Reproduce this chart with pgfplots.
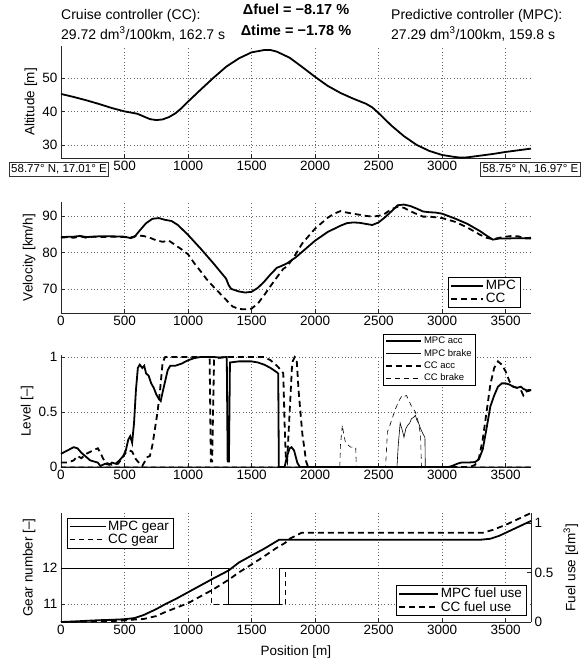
\documentclass[border=0pt]{standalone}
\usepackage{fontspec}
\setmainfont{Liberation Sans}
\usepackage{pgfplots}
\pgfplotsset{compat=1.18}
\newcommand\tf{\fontsize{13.5}{16}\selectfont}
\newcommand\ttl{\fontsize{14}{16}\selectfont}
\pgfplotsset{
  myaxis/.style={
    scale only axis, width=470pt, anchor=south west,
    xmin=0, xmax=3700, xtick={0,500,...,3500},
    axis x line*=bottom, axis y line*=left,
    x axis line style={-}, y axis line style={-},
    tick align=inside, major tick length=4pt,
    grid=major, major grid style={black!60, dash pattern=on 0.7pt off 2.6pt, line width=0.5pt},
    tick label style={font=\tf},
    label style={font=\tf},
    /pgf/number format/assume math mode=true,
    /pgf/number format/1000 sep={},
    scaled ticks=false, clip=false,
    axis line style={line width=0.6pt, black!85},
    tick style={black!85, line width=0.5pt},
    legend style={draw=black, fill=white, line width=0.6pt, font=\tf, inner xsep=2pt, inner ysep=1pt, row sep=-2pt, cells={anchor=west}},
    legend image code/.code={\draw[#1] (0pt,0pt) -- (32pt,0pt);},
  },
  thk/.style={black, line width=1.8pt},
  thkd/.style={black, line width=1.8pt, dash pattern=on 6pt off 4pt},
  thn/.style={black, line width=0.6pt},
  thnd/.style={black, line width=0.6pt, dash pattern=on 5pt off 4pt},
}
\begin{document}
\begin{tikzpicture}[x=1pt,y=1pt]
\path[use as bounding box] (0,0) rectangle (587,662);

% ---------- Panel 1: Altitude
\begin{axis}[myaxis, at={(61pt,504pt)}, height=112pt, ymin=26.1, ymax=59.5, ytick={30,40,50},
  xticklabels={,500,1000,1500,2000,2500,3000,},
  ylabel={Altitude [m]}, ylabel style={at={(axis description cs:-0.064,0.5)}, anchor=center, rotate=0}]
\addplot[thk] coordinates {(0,45.2)(100,44.3)(200,43.3)(300,42.2)(400,41)(500,40)(600,39.3)(650,38.5)(700,37.7)(750,37.4)(800,37.6)(850,38.3)(900,39.4)(950,41)(1000,42.9)(1100,46.5)(1200,50)(1300,53.3)(1400,55.8)(1500,57.6)(1600,58.3)(1650,58.3)(1700,57.8)(1800,56)(1900,53.2)(2000,50.3)(2100,47.6)(2200,45.5)(2300,43.8)(2400,42.3)(2450,41.2)(2500,39.5)(2600,35.8)(2700,32.6)(2800,30)(2900,28.2)(3000,27)(3100,26.4)(3150,26.2)(3200,26.3)(3300,26.8)(3400,27.3)(3500,27.9)(3600,28.4)(3700,28.9)};
\end{axis}
\node[draw=black!80, fill=white, line width=0.6pt, inner xsep=2pt, inner ysep=2.5pt, font=\fontsize{11.5}{12}\selectfont] at (59,492.5) {58.77° N, 17.01° E};
\node[draw=black!80, fill=white, line width=0.6pt, inner xsep=2pt, inner ysep=2.5pt, font=\fontsize{11.5}{12}\selectfont] at (530.5,492.5) {58.75° N, 16.97° E};
\node[anchor=west, inner sep=0pt, font=\ttl] at (61,646) {Cruise controller (CC):};
\node[anchor=west, inner sep=0pt, font=\ttl] at (61,628) {29.72 dm\textsuperscript{3}/100km, 162.7 s};
\node[inner sep=0pt, font=\fontsize{14.5}{16}\selectfont\bfseries] at (296,652.5) {Δfuel = −8.17 \%};
\node[inner sep=0pt, font=\fontsize{14.5}{16}\selectfont\bfseries] at (296,632) {Δtime = −1.78 \%};
\node[anchor=west, inner sep=0pt, font=\ttl] at (391,646) {Predictive controller (MPC):};
\node[anchor=west, inner sep=0pt, font=\ttl] at (391,628) {27.29 dm\textsuperscript{3}/100km, 159.8 s};

% ---------- Panel 2: Velocity
\begin{axis}[myaxis, at={(61pt,349pt)}, height=111pt, ymin=63.4, ymax=93.8, ytick={70,80,90},
  ylabel={Velocity [km/h]}, ylabel style={at={(axis description cs:-0.068,0.5)}, anchor=center},
  legend style={at={(axis description cs:0.977,0.048)}, anchor=south east}]
\addplot[thk] coordinates {(0,84.2)(100,84.3)(150,84.5)(200,84.2)(250,84.3)(300,84.4)(400,84.4)(500,84.3)(550,83.9)(580,84.3)(620,86)(670,88)(720,89.2)(770,89.4)(820,88.9)(870,88.6)(920,87.5)(1000,84.8)(1100,81)(1200,77)(1300,72.8)(1320,71)(1340,70)(1400,69.3)(1450,69)(1500,69.2)(1550,70.3)(1600,72)(1650,74)(1700,75.8)(1730,76.2)(1780,77)(1850,78.7)(1900,80.2)(2000,83.2)(2100,85.6)(2200,87.3)(2250,88)(2300,88.2)(2350,88.1)(2400,87.8)(2450,87.5)(2500,88.2)(2550,89.6)(2600,91.2)(2650,92.9)(2700,93.1)(2750,92.7)(2800,92)(2850,91.2)(2900,91)(2950,90.9)(3000,90.6)(3100,89.3)(3200,87.8)(3300,85.8)(3350,84.6)(3400,83.5)(3450,83.8)(3500,83.8)(3600,83.9)(3700,83.8)};
\addlegendentry{MPC}
\addplot[thkd] coordinates {(0,84)(50,84.2)(100,84)(150,84.4)(200,84)(250,84.3)(300,84.2)(400,84.3)(500,84.2)(550,84.1)(600,84.6)(650,84.5)(700,84)(750,83.3)(800,82.9)(850,83.2)(900,82)(950,80.8)(1000,79.5)(1050,77)(1100,74.8)(1150,72.5)(1200,70.6)(1250,68.8)(1300,67)(1350,65.2)(1400,64.5)(1450,64.4)(1500,64.6)(1550,66)(1600,68.3)(1650,70.8)(1700,73.2)(1750,75.5)(1780,76.2)(1830,78.5)(1900,82.5)(2000,86.5)(2100,89.5)(2150,90.6)(2200,91.3)(2250,90.9)(2300,90.6)(2400,90)(2450,89.8)(2500,90)(2550,90.6)(2600,91.8)(2650,92.5)(2700,92.2)(2750,91.3)(2800,90.5)(2850,89.8)(2900,89.8)(3000,89.4)(3100,88.4)(3200,86.8)(3300,84.8)(3350,84)(3400,83.6)(3450,84)(3500,84.3)(3550,84.5)(3600,84.4)(3650,83.9)(3700,84)};
\addlegendentry{CC}
\end{axis}

% ---------- Panel 3: Level
\begin{axis}[myaxis, at={(61pt,195pt)}, height=112pt, ymin=0, ymax=1.018, ytick={0,0.5,1},
  ylabel={Level [–]}, ylabel style={at={(axis description cs:-0.072,0.5)}, anchor=center},
  legend style={at={(axis description cs:0.685,1.19)}, anchor=north west, font=\fontsize{9.5}{11}\selectfont, row sep=0pt, inner ysep=1pt},
  legend image code/.code={\draw[#1] (0pt,0pt) -- (35pt,0pt);}]
\addplot[thk] coordinates {(0,0.12)(50,0.15)(100,0.18)(130,0.17)(160,0.13)(200,0.09)(230,0.06)(260,0.05)(290,0.04)(310,0.01)(330,0.02)(350,0.03)(380,0.02)(400,0.04)(430,0.03)(460,0.06)(490,0.1)(510,0.15)(530,0.25)(545,0.28)(560,0.22)(575,0.4)(590,0.7)(605,0.9)(620,0.93)(640,0.9)(655,0.92)(670,0.85)(690,0.83)(710,0.76)(730,0.72)(750,0.66)(770,0.62)(785,0.6)(800,0.68)(820,0.78)(840,0.88)(860,0.92)(900,0.92)(950,0.94)(1000,0.97)(1050,0.99)(1100,1)(1200,1)(1250,0.995)(1305,1)(1312,0.05)(1322,0.05)(1330,0.95)(1400,0.96)(1500,0.96)(1550,0.95)(1600,0.93)(1650,0.9)(1700,0.86)(1710,0.85)(1715,0)(1760,0)(1780,0.1)(1800,0.17)(1815,0.18)(1835,0.15)(1860,0.04)(1880,0)(3050,0)(3080,0.01)(3120,0.03)(3150,0.04)(3200,0.04)(3260,0.045)(3290,0.07)(3320,0.16)(3350,0.35)(3380,0.55)(3410,0.65)(3440,0.73)(3470,0.76)(3500,0.76)(3530,0.75)(3560,0.73)(3590,0.72)(3620,0.73)(3640,0.71)(3660,0.7)(3680,0.69)(3700,0.7)};
\addlegendentry{MPC acc}
\addplot[thn] coordinates {(0,0)(2645,0)(2655,0.2)(2670,0.4)(2690,0.32)(2700,0.27)(2715,0.35)(2730,0.38)(2745,0.4)(2760,0.44)(2775,0.45)(2790,0.47)(2800,0.43)(2815,0.4)(2830,0.35)(2850,0.3)(2865,0.27)(2868,0)(3700,0)};
\addlegendentry{MPC brake}
\addplot[thkd] coordinates {(0,0.04)(50,0.04)(100,0.06)(130,0.1)(160,0.08)(200,0.12)(250,0.15)(290,0.17)(310,0.13)(330,0.08)(350,0.04)(400,0.02)(450,0.03)(480,0.08)(510,0.13)(540,0.15)(560,0.14)(590,0.07)(620,0.03)(640,0.01)(660,0.05)(680,0.09)(700,0.1)(720,0.2)(740,0.35)(760,0.5)(780,0.7)(800,0.95)(820,1)(1170,1)(1175,0.5)(1180,0.05)(1190,0.05)(1197,0.5)(1205,0.97)(1230,0.99)(1300,1)(1600,1)(1650,0.97)(1700,0.92)(1740,0.87)(1750,0.85)(1760,0.4)(1770,0.08)(1780,0.05)(1800,0.5)(1820,0.95)(1840,1)(1855,0.98)(1870,0.7)(1900,0.3)(1930,0.05)(1945,0)(3220,0)(3260,0.02)(3290,0.08)(3320,0.25)(3350,0.5)(3380,0.75)(3410,0.9)(3440,0.96)(3470,0.93)(3500,0.87)(3530,0.78)(3560,0.73)(3590,0.72)(3620,0.7)(3640,0.65)(3660,0.68)(3680,0.7)(3700,0.7)};
\addlegendentry{CC acc}
\addplot[thnd] coordinates {(0,0)(2195,0)(2200,0.2)(2215,0.38)(2225,0.3)(2240,0.22)(2260,0.2)(2280,0.18)(2300,0.18)(2320,0.18)(2325,0)(2555,0)(2570,0.32)(2590,0.38)(2610,0.45)(2630,0.52)(2660,0.6)(2685,0.65)(2700,0.64)(2720,0.65)(2740,0.6)(2760,0.55)(2790,0.5)(2810,0.42)(2830,0.3)(2838,0)(3700,0)};
\addlegendentry{CC brake}
\end{axis}

% ---------- Panel 4: Gear + fuel
\begin{axis}[myaxis, at={(61pt,40pt)}, height=109pt, ymin=10.5, ymax=13.53, ytick={11,12},
  ylabel={Gear number [–]}, ylabel style={at={(axis description cs:-0.068,0.5)}, anchor=center},
  xlabel={Position [m]}, xlabel style={at={(axis description cs:0.5,-0.275)}, anchor=center},
  legend style={at={(axis description cs:0.013,0.954)}, anchor=north west},
  legend image code/.code={\draw[#1] (0pt,0pt) -- (36pt,0pt);}]
\addplot[thn, line width=0.7pt] coordinates {(0,12)(1320,12)(1320,11)(1718,11)(1718,12)(3700,12)};
\addlegendentry{MPC gear}
\addplot[thnd, line width=0.7pt] coordinates {(0,12)(1180,12)(1180,11)(1768,11)(1768,12)(3700,12)};
\addlegendentry{CC gear}
\end{axis}
\begin{axis}[myaxis, at={(61pt,40pt)}, height=109pt, ymin=0, ymax=1.1, ytick={0,0.5,1},
  axis y line*=right, hide x axis, grid=none,
  ylabel={Fuel use [dm\textsuperscript{3}]}, ylabel style={at={(axis description cs:1.085,0.5)}, anchor=center, rotate=0},
  legend style={at={(axis description cs:0.99,0.055)}, anchor=south east},
  legend image code/.code={\draw[#1] (0pt,0pt) -- (39pt,0pt);}]
\addplot[thk] coordinates {(0,0)(100,0.005)(200,0.012)(300,0.018)(400,0.022)(500,0.028)(580,0.04)(650,0.07)(750,0.13)(820,0.18)(900,0.23)(1000,0.3)(1100,0.37)(1200,0.44)(1320,0.52)(1400,0.6)(1500,0.67)(1600,0.74)(1717,0.83)(1800,0.83)(3300,0.83)(3380,0.84)(3450,0.87)(3500,0.9)(3600,0.96)(3700,1.02)};
\addlegendentry{MPC fuel use}
\addplot[thkd] coordinates {(0,0)(200,0.005)(400,0.01)(500,0.015)(580,0.025)(650,0.03)(750,0.06)(820,0.1)(900,0.14)(1000,0.19)(1100,0.26)(1200,0.33)(1324,0.43)(1400,0.5)(1500,0.58)(1584,0.65)(1700,0.75)(1767,0.8)(1800,0.84)(1894,0.9)(2000,0.9)(3320,0.9)(3400,0.93)(3500,0.98)(3600,1.04)(3700,1.1)};
\addlegendentry{CC fuel use}
\end{axis}
\end{tikzpicture}
\end{document}
